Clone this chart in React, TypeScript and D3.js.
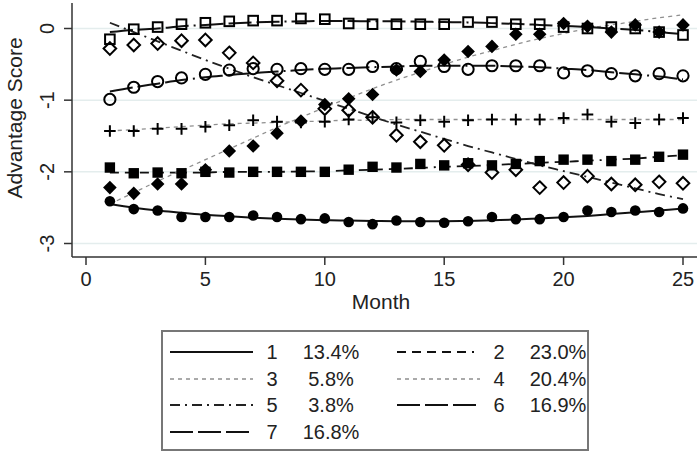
import React from 'react';
import * as d3 from 'd3';

// ---------- data ----------
const months = [1, 2, 3, 4, 5, 6, 7, 8, 9, 10, 11, 12, 13, 14, 15, 16, 17, 18, 19, 20, 21, 22, 23, 24, 25];

// observed group means
const obs1 = [-2.41, -2.52, -2.54, -2.63, -2.63, -2.63, -2.61, -2.63, -2.66, -2.65, -2.70, -2.73, -2.68, -2.70, -2.71, -2.69, -2.63, -2.66, -2.66, -2.63, -2.54, -2.56, -2.54, -2.56, -2.51];
const obs2 = [-1.94, -2.02, -2.01, -2.02, -2.00, -2.01, -2.00, -2.00, -2.00, -2.00, -1.97, -1.93, -1.94, -1.89, -1.91, -1.88, -1.91, -1.89, -1.85, -1.83, -1.83, -1.85, -1.83, -1.79, -1.76];
const obs3 = [-1.43, -1.43, -1.40, -1.40, -1.37, -1.35, -1.28, -1.30, -1.31, -1.30, -1.27, -1.24, -1.31, -1.28, -1.30, -1.28, -1.27, -1.27, -1.27, -1.25, -1.20, -1.30, -1.32, -1.27, -1.25];
const obs4 = [-2.22, -2.30, -2.17, -2.17, -1.97, -1.71, -1.64, -1.46, -1.29, -1.06, -0.98, -0.92, -0.58, -0.60, -0.44, -0.32, -0.25, -0.08, -0.08, 0.07, 0.03, -0.05, 0.05, -0.05, 0.05];
const obs5 = [-0.28, -0.23, -0.21, -0.17, -0.16, -0.34, -0.48, -0.73, -0.86, -1.12, -1.14, -1.24, -1.49, -1.58, -1.63, -1.90, -2.01, -1.97, -2.22, -2.15, -2.06, -2.17, -2.18, -2.14, -2.16];
const obs6 = [-0.99, -0.82, -0.74, -0.69, -0.64, -0.58, -0.56, -0.57, -0.56, -0.57, -0.57, -0.53, -0.56, -0.46, -0.53, -0.57, -0.52, -0.52, -0.52, -0.62, -0.59, -0.63, -0.66, -0.63, -0.66];
const obs7 = [-0.15, -0.01, 0.02, 0.06, 0.08, 0.10, 0.11, 0.11, 0.14, 0.13, 0.07, 0.06, 0.06, 0.06, 0.06, 0.09, 0.09, 0.06, 0.06, 0.02, 0.00, 0.02, 0.00, -0.05, -0.09];

// fitted trajectories
const fit1 = [-2.45, -2.50, -2.54, -2.57, -2.60, -2.62, -2.64, -2.655, -2.665, -2.675, -2.68, -2.685, -2.69, -2.69, -2.69, -2.685, -2.675, -2.665, -2.65, -2.635, -2.615, -2.59, -2.565, -2.54, -2.51];
const fit2 = [-2.01, -2.01, -2.01, -2.01, -2.01, -2.0, -2.0, -2.0, -1.995, -1.99, -1.98, -1.97, -1.96, -1.945, -1.93, -1.92, -1.905, -1.89, -1.875, -1.86, -1.845, -1.83, -1.815, -1.79, -1.77];
const fit3 = [-1.43, -1.41, -1.39, -1.37, -1.35, -1.33, -1.32, -1.31, -1.30, -1.29, -1.28, -1.28, -1.27, -1.27, -1.27, -1.27, -1.27, -1.27, -1.27, -1.27, -1.27, -1.27, -1.27, -1.27, -1.27];
const fit4 = [-2.45, -2.29, -2.13, -1.98, -1.83, -1.68, -1.53, -1.38, -1.24, -1.10, -0.97, -0.84, -0.72, -0.61, -0.50, -0.40, -0.31, -0.22, -0.14, -0.07, 0.00, 0.05, 0.10, 0.15, 0.19];
const fit5 = [0.08, -0.05, -0.18, -0.31, -0.44, -0.56, -0.68, -0.79, -0.90, -1.01, -1.12, -1.23, -1.34, -1.44, -1.54, -1.64, -1.73, -1.82, -1.91, -1.99, -2.07, -2.15, -2.23, -2.31, -2.38];
const fit6 = [-0.88, -0.82, -0.77, -0.72, -0.68, -0.65, -0.62, -0.60, -0.58, -0.56, -0.55, -0.54, -0.53, -0.52, -0.52, -0.52, -0.52, -0.53, -0.54, -0.56, -0.58, -0.61, -0.64, -0.67, -0.71];
const fit7 = [-0.05, -0.02, 0.0, 0.03, 0.05, 0.07, 0.085, 0.095, 0.10, 0.105, 0.105, 0.10, 0.10, 0.095, 0.09, 0.085, 0.075, 0.065, 0.05, 0.035, 0.02, 0.0, -0.02, -0.05, -0.08];

const groupLabels = ['1', '2', '3', '4', '5', '6', '7'];
const groupShares = ['13.4%', '23.0%', '5.8%', '20.4%', '3.8%', '16.9%', '16.8%'];
const xTicks = [0, 5, 10, 15, 20, 25];
const yTicks = [0, -1, -2, -3];
const xTitle = 'Month';
const yTitle = 'Advantage Score';

// ---------- styles ----------
type Marker = 'fcircle' | 'fsquare' | 'plus' | 'fdiamond' | 'odiamond' | 'ocircle' | 'osquare';
const observed = [obs1, obs2, obs3, obs4, obs5, obs6, obs7];
const fitted = [fit1, fit2, fit3, fit4, fit5, fit6, fit7];
const markers: Marker[] = ['fcircle', 'fsquare', 'plus', 'fdiamond', 'odiamond', 'ocircle', 'osquare'];
const lineStyles = [
  { dash: undefined, color: '#111', w: 2 },
  { dash: '9,6,9,6,9,6,9,6,9,6,2,6', color: '#111', w: 1.8 },
  { dash: '4,4', color: '#8f8f8f', w: 1.3 },
  { dash: '4,4', color: '#8f8f8f', w: 1.3 },
  { dash: '10,5,2,5', color: '#222', w: 1.8 },
  { dash: '23,5,23,5,23,5,2,5', color: '#111', w: 2 },
  { dash: '23,5,23,5,23,5,2,5', color: '#111', w: 2 },
];

const FONT = 'Liberation Sans, Arial, Helvetica, sans-serif';
const W = 697;
const H = 452;

function MarkerShape({ type, x, y }: { type: Marker; x: number; y: number }) {
  const c = '#000';
  switch (type) {
    case 'fcircle':
      return <circle cx={x} cy={y} r={5.3} fill={c} />;
    case 'ocircle':
      return <circle cx={x} cy={y} r={5.6} fill="none" stroke={c} strokeWidth={2} />;
    case 'fsquare':
      return <rect x={x - 5.2} y={y - 5.2} width={10.4} height={10.4} fill={c} />;
    case 'osquare':
      return <rect x={x - 4.8} y={y - 4.8} width={9.6} height={9.6} fill="none" stroke={c} strokeWidth={2} />;
    case 'fdiamond':
      return <path d={`M${x},${y - 6.8}L${x + 6.8},${y}L${x},${y + 6.8}L${x - 6.8},${y}Z`} fill={c} />;
    case 'odiamond':
      return <path d={`M${x},${y - 6.3}L${x + 6.3},${y}L${x},${y + 6.3}L${x - 6.3},${y}Z`} fill="none" stroke={c} strokeWidth={2} />;
    case 'plus':
      return <path d={`M${x - 5.8},${y}H${x + 5.8}M${x},${y - 5.8}V${y + 5.8}`} stroke={c} strokeWidth={2} />;
  }
  return null;
}

export default function App() {
  const x = d3.scaleLinear().domain([0, 25]).range([86, 683]);
  const y = d3.scaleLinear().domain([0, -3]).range([28.5, 243.5]);
  const plotLeft = 72;
  const plotBottom = 257;
  const plotTop = 3;
  const plotRight = 697;

  const line = d3
    .line<number>()
    .x((_, i) => x(months[i]))
    .y((d) => y(d))
    .curve(d3.curveCatmullRom.alpha(0.5));

  // legend layout
  const legX = 162, legY = 331, legW = 426, legH = 119;
  const colX = [170, 397];
  const rowY = [352, 379, 405, 432];
  const sampleLen = 83;

  return (
    <svg width={W} height={H} style={{ position: 'absolute', left: 0, top: 0, display: 'block', background: '#fff' }} fontFamily={FONT}>
      <rect x={0} y={0} width={W} height={H} fill="#fff" />
      {/* gridlines */}
      {yTicks.map((t) => (
        <line key={'g' + t} x1={plotLeft} x2={plotRight} y1={y(t)} y2={y(t)} stroke="#e4eded" strokeWidth={1.5} />
      ))}
      {/* fitted lines */}
      {fitted.map((f, gi) => (
        <path
          key={'f' + gi}
          d={line(f) || ''}
          fill="none"
          stroke={lineStyles[gi].color}
          strokeWidth={lineStyles[gi].w}
          strokeDasharray={lineStyles[gi].dash}
        />
      ))}
      {/* observed markers */}
      {observed.map((o, gi) =>
        o.map((v, i) => <MarkerShape key={'m' + gi + '-' + i} type={markers[gi]} x={x(months[i])} y={y(v)} />)
      )}
      {/* axes */}
      <line x1={plotLeft} x2={plotLeft} y1={plotTop} y2={plotBottom} stroke="#333" strokeWidth={1.5} />
      <line x1={plotLeft} x2={plotRight} y1={plotBottom} y2={plotBottom} stroke="#333" strokeWidth={1.5} />
      {yTicks.map((t) => (
        <g key={'yt' + t}>
          <line x1={plotLeft - 8} x2={plotLeft} y1={y(t)} y2={y(t)} stroke="#333" strokeWidth={1.5} />
          <text
            transform={`translate(54,${y(t)}) rotate(-90)`}
            textAnchor="middle"
            fontSize={20}
            fill="#222"
          >
            {String(t)}
          </text>
        </g>
      ))}
      {xTicks.map((t) => (
        <g key={'xt' + t}>
          <line x1={x(t)} x2={x(t)} y1={plotBottom} y2={plotBottom + 8} stroke="#333" strokeWidth={1.5} />
          <text x={x(t)} y={285.5} textAnchor="middle" fontSize={20} fill="#222">
            {String(t)}
          </text>
        </g>
      ))}
      <text x={381} y={309} textAnchor="middle" fontSize={21} fill="#222">
        {xTitle}
      </text>
      <text transform="translate(22,118) rotate(-90)" textAnchor="middle" fontSize={21} fill="#222">
        {yTitle}
      </text>
      {/* legend */}
      <rect x={legX} y={legY} width={legW} height={legH} fill="#fff" stroke="#777" strokeWidth={2} />
      {groupLabels.map((g, gi) => {
        const col = gi % 2;
        const row = Math.floor(gi / 2);
        const x0 = colX[col];
        const cy = rowY[row];
        return (
          <g key={'l' + gi}>
            <line
              x1={x0}
              x2={x0 + sampleLen}
              y1={cy}
              y2={cy}
              stroke={lineStyles[gi].color}
              strokeWidth={lineStyles[gi].w}
              strokeDasharray={lineStyles[gi].dash}
            />
            <text x={x0 + 102} y={cy + 7} textAnchor="middle" fontSize={20} fill="#222">
              {g}
            </text>
            <text x={x0 + 161} y={cy + 7} textAnchor="middle" fontSize={20} fill="#222">
              {groupShares[gi]}
            </text>
          </g>
        );
      })}
    </svg>
  );
}
